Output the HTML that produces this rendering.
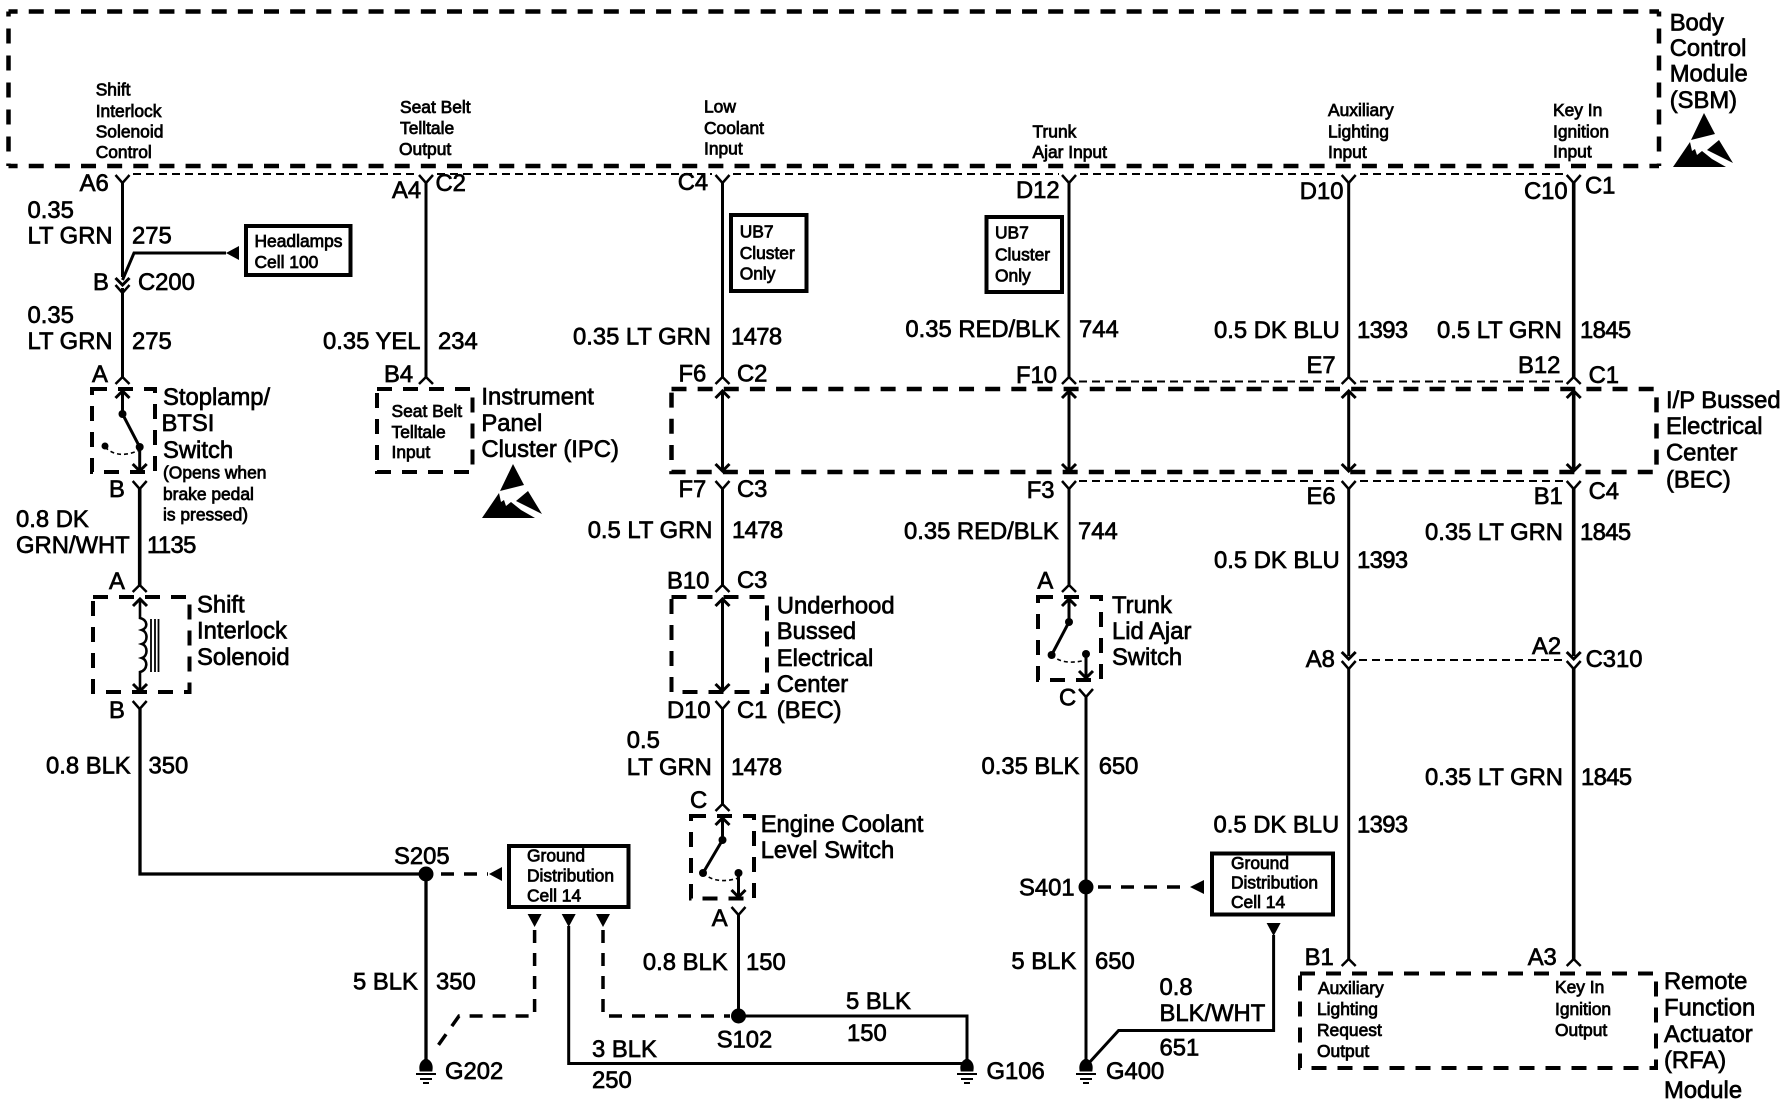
<!DOCTYPE html>
<html><head><meta charset="utf-8"><style>
html,body{margin:0;padding:0;background:#fff}
svg{display:block}
text{font-family:"Liberation Sans",sans-serif;fill:#000;stroke:#000;stroke-width:.7px}
.b{font-size:23.8px}
.n{letter-spacing:-.6px}
.s{font-size:17.4px;stroke-width:.75px}
.w{fill:none;stroke:#000;stroke-width:3}
.d{fill:none;stroke:#000;stroke-width:4.5;stroke-dasharray:15 11.14}
.t{fill:none;stroke:#000;stroke-width:2;stroke-dasharray:8 5}
.m{fill:none;stroke:#000;stroke-width:4;stroke-dasharray:15 11}
.r{fill:#fff;stroke:#000;stroke-width:4}
</style></head><body>
<svg width="1786" height="1120" viewBox="0 0 1786 1120" xmlns="http://www.w3.org/2000/svg">
<defs>
<path id="Y" d="M-7,0L0,8L7,0" fill="none" stroke="#000" stroke-width="2.5"/>
<path id="L" d="M-7,0L0,-7L7,0" fill="none" stroke="#000" stroke-width="2.5"/>
<path id="U" d="M-7,7L0,0L7,7" fill="none" stroke="#000" stroke-width="3"/>
<path id="D" d="M-7,-7L0,0L7,-7" fill="none" stroke="#000" stroke-width="3"/>
<g id="G"><path d="M-5,10C-6,4 -3,1 0,0C3,1 6,4 5,10Z" fill="#000" stroke="#000" stroke-width="3"/><path d="M-10,14H10M-6,19H6M-3,23H3" stroke="#000" stroke-width="2" fill="none"/></g>
<polygon id="Tri" points="-7,0 7,0 0,13" fill="#000"/>
<g id="E"><polygon points="0,0 11,21 -13,27" fill="#000"/><polygon points="-31,54 -14,29 -12,38 -9,36 -7,42 -2,38 8,46 22,54" fill="#000"/><polygon points="15,27 29,50 3,37" fill="#000"/></g>
</defs>

<!-- module boxes -->
<path class="d" style="stroke-dashoffset:5.9" d="M8.5,11.5H1659"/>
<path class="d" style="stroke-dashoffset:5.9" d="M8.5,166H1659"/>
<path class="d" style="stroke-dasharray:15 12;stroke-dashoffset:10" d="M8.5,11.5V166"/>
<path class="d" style="stroke-dasharray:15 12;stroke-dashoffset:10" d="M1659,11.5V166"/>
<rect x="671.5" y="389" width="985" height="83" class="d"/>
<rect x="92" y="389" width="63" height="83" class="m"/>
<rect x="377" y="389" width="95.5" height="83" class="m"/>
<rect x="93" y="597" width="96.5" height="95" class="m"/>
<rect x="671.5" y="597" width="95.5" height="95" class="m"/>
<rect x="691" y="816" width="63" height="82.5" class="m"/>
<rect x="1038" y="597" width="63" height="83" class="m"/>
<rect x="1300" y="973.5" width="356" height="94.5" class="m"/>

<!-- thin dashed -->
<path class="t" d="M133,174H416M437,174H712M733,174H1059M1080,174H1339M1360,174H1564"/>
<path class="t" d="M1079,381.5H1339M1360,381.5H1564"/>
<path class="t" d="M1079,481H1339M1360,481H1564"/>
<path class="t" d="M1359,660H1564"/>

<!-- wires -->
<path class="w" d="M122.5,182V277M122.5,288V378"/>
<path class="w" d="M426,182V378"/>
<path class="w" d="M722.5,182V378M722.5,392V470M722.5,488V587M722.5,600V690M722.5,709V806"/>
<path class="w" d="M1069,182V378M1069,392V470M1069,488V587"/>
<path class="w" d="M1348.7,182V378M1348.7,392V470M1348.7,488V656M1348.7,668V960"/>
<path class="w" d="M1573.7,182V378M1573.7,392V470M1573.7,488V656M1573.7,668V960" style="stroke-width:3.6"/>
<path class="w" d="M139.7,488V587" style="stroke-width:3.6"/>
<path class="w" d="M140,709V874H426V1062" style="stroke-width:3.3"/>
<path class="w" d="M738.5,914V1016H967V1062" />
<path class="w" d="M568.7,926V1063.5H967" />
<path class="w" d="M1086,696V1062"/>
<path class="w" d="M1273.6,935V1030.5H1118.6L1088,1064"/>
<path class="w" d="M226,253H134L122.5,280"/>
<polygon points="226,253 239,246 239,260" fill="#000"/>

<!-- ref dashed -->
<path fill="none" stroke="#000" stroke-width="3.5" stroke-dasharray="13 10" d="M441,874H488"/>
<polygon points="489,874 502,867 502,881" fill="#000"/>
<path fill="none" stroke="#000" stroke-width="3.5" stroke-dasharray="13 10" d="M1098,887H1186"/>
<polygon points="1190,887 1204,880 1204,894" fill="#000"/>
<path fill="none" stroke="#000" stroke-width="3.5" stroke-dasharray="13 10" d="M534.6,930V1016H459L437,1047"/>
<path fill="none" stroke="#000" stroke-width="3.5" stroke-dasharray="13 10" d="M603,930V1016H730"/>

<!-- triangles under boxes -->
<use href="#Tri" x="534.6" y="914"/><use href="#Tri" x="568.7" y="914"/><use href="#Tri" x="603" y="914"/><use href="#Tri" x="1273.6" y="923"/>

<!-- solid boxes -->
<rect x="246" y="226" width="104.5" height="49" class="r"/>
<rect x="731" y="215" width="75.5" height="76" class="r"/>
<rect x="986.5" y="217" width="75.5" height="75" class="r"/>
<rect x="509" y="846" width="119.5" height="61" class="r"/>
<rect x="1212" y="853.5" width="121" height="61" class="r"/>

<!-- splices -->
<circle cx="426" cy="874" r="7.5" fill="#000"/>
<circle cx="738.5" cy="1016" r="7.5" fill="#000"/>
<circle cx="1086" cy="887" r="7.5" fill="#000"/>

<!-- connectors -->
<use href="#Y" x="122.5" y="175"/><use href="#Y" x="426" y="175"/><use href="#Y" x="722.5" y="175"/><use href="#Y" x="1069" y="175"/><use href="#Y" x="1348.7" y="175"/><use href="#Y" x="1573.7" y="175"/>
<use href="#L" x="122.5" y="384"/><use href="#L" x="426" y="384"/><use href="#L" x="722.5" y="384"/><use href="#L" x="1069" y="384"/><use href="#L" x="1348.7" y="384"/><use href="#L" x="1573.7" y="384"/>
<use href="#Y" x="139.7" y="481"/><use href="#Y" x="722.5" y="481"/><use href="#Y" x="1069" y="481"/><use href="#Y" x="1348.7" y="481"/><use href="#Y" x="1573.7" y="481"/>
<use href="#L" x="139.7" y="592"/><use href="#L" x="722.5" y="592"/><use href="#L" x="1069" y="592"/>
<use href="#Y" x="139.7" y="701"/><use href="#Y" x="722.5" y="701"/><use href="#Y" x="1086" y="689"/>
<use href="#L" x="722.5" y="811"/><use href="#Y" x="738.5" y="907"/>
<use href="#L" x="1348.7" y="966"/><use href="#L" x="1573.7" y="966"/>
<!-- chevron pairs -->
<use href="#D" x="122.5" y="285"/><use href="#Y" x="122.5" y="285"/>
<use href="#D" x="1348.7" y="659"/><use href="#Y" x="1348.7" y="661"/>
<use href="#D" x="1573.7" y="659"/><use href="#Y" x="1573.7" y="661"/>
<!-- arrows in boxes -->
<use href="#U" x="722.5" y="391"/><use href="#D" x="722.5" y="471"/>
<use href="#U" x="1069" y="391"/><use href="#D" x="1069" y="471"/>
<use href="#U" x="1348.7" y="391"/><use href="#D" x="1348.7" y="471"/>
<use href="#U" x="1573.7" y="391"/><use href="#D" x="1573.7" y="471"/>
<use href="#U" x="722.5" y="599"/><use href="#D" x="722.5" y="691"/>

<!-- switches and solenoid -->
<g fill="none" stroke="#000" stroke-width="3">
<path d="M122.5,392V414L139.7,447V470"/><use href="#U" x="122.5" y="391"/><use href="#D" x="139.7" y="471"/>
<path d="M105,447Q118,460 139.7,450" stroke-width="1.6" stroke-dasharray="4 3"/>
<path d="M722.5,819V840L703,873"/><path d="M738.5,873V896"/><use href="#U" x="722.5" y="818"/><use href="#D" x="738.5" y="897"/>
<path d="M703,873Q716,885 738.5,878" stroke-width="1.6" stroke-dasharray="4 3"/>
<path d="M1069,600V622L1051.6,655"/><path d="M1086,654V677"/><use href="#U" x="1069" y="599"/><use href="#D" x="1086" y="678"/>
<path d="M1051.6,655Q1063,666 1086,660" stroke-width="1.6" stroke-dasharray="4 3"/>
<path d="M140,600V618C148,620 148,628 142,630C148,632 148,642 142,644C148,646 148,656 142,658C148,660 148,670 140,672V690" stroke-width="2.6"/>
<use href="#U" x="140" y="599"/><use href="#D" x="140" y="691"/>
<path d="M151,619V672M155,619V672M158.5,619V672" stroke-width="1.8"/>
</g>
<g fill="#000">
<circle cx="122.5" cy="414" r="4"/><circle cx="139.7" cy="447" r="4"/><circle cx="105" cy="446" r="3.5"/>
<circle cx="722.5" cy="840" r="4"/><circle cx="703" cy="873" r="4"/><circle cx="738.5" cy="873" r="4"/>
<circle cx="1069" cy="622" r="4"/><circle cx="1051.6" cy="655" r="4"/><circle cx="1086" cy="654" r="4"/>
</g>

<!-- grounds -->
<use href="#G" x="426" y="1060"/><use href="#G" x="967" y="1060"/><use href="#G" x="1086" y="1060"/>
<!-- ESD -->
<use href="#E" x="513" y="464"/><use href="#E" x="1704" y="113"/>

<!-- small text -->
<g>
<text class="s" x="95.7" y="95.7">Shift</text><text class="s" x="95.7" y="117">Interlock</text><text class="s" x="95.7" y="137.5">Solenoid</text><text class="s" x="95.7" y="158">Control</text>
<text class="s" x="400" y="113">Seat Belt</text><text class="s" x="400" y="134">Telltale</text><text class="s" x="399" y="155">Output</text>
<text class="s" x="704" y="112.5">Low</text><text class="s" x="704" y="134">Coolant</text><text class="s" x="704" y="154.6">Input</text>
<text class="s" x="1032.5" y="137.5">Trunk</text><text class="s" x="1032.5" y="158">Ajar Input</text>
<text class="s" x="1328" y="116">Auxiliary</text><text class="s" x="1328" y="137.5">Lighting</text><text class="s" x="1328" y="158">Input</text>
<text class="s" x="1553" y="116">Key In</text><text class="s" x="1553" y="137.5">Ignition</text><text class="s" x="1553" y="157.5">Input</text>
<text class="s" x="254.5" y="247">Headlamps</text><text class="s" x="254.5" y="268">Cell 100</text>
<text class="s" x="739.7" y="237.5">UB7</text><text class="s" x="739.7" y="259">Cluster</text><text class="s" x="739.7" y="279.6">Only</text>
<text class="s" x="995" y="238.6">UB7</text><text class="s" x="995" y="260.7">Cluster</text><text class="s" x="995" y="281.4">Only</text>
<text class="s" x="163" y="478.6">(Opens when</text><text class="s" x="163" y="500">brake pedal</text><text class="s" x="163" y="520.7">is pressed)</text>
<text class="s" x="391.5" y="417">Seat Belt</text><text class="s" x="391.5" y="438">Telltale</text><text class="s" x="391.5" y="458">Input</text>
<text class="s" x="527" y="861.5">Ground</text><text class="s" x="527" y="881.5">Distribution</text><text class="s" x="527" y="901.5">Cell 14</text>
<text class="s" x="1231" y="869">Ground</text><text class="s" x="1231" y="888.6">Distribution</text><text class="s" x="1231" y="908">Cell 14</text>
<text class="s" x="1318" y="994">Auxiliary</text><text class="s" x="1317" y="1015">Lighting</text><text class="s" x="1317" y="1036">Request</text><text class="s" x="1317" y="1057">Output</text>
<text class="s" x="1555" y="993">Key In</text><text class="s" x="1555" y="1015">Ignition</text><text class="s" x="1555" y="1036">Output</text>
</g>

<!-- big text -->
<g>
<text class="b" x="79.6" y="191">A6</text><text class="b" x="392" y="198">A4</text><text class="b" x="435.5" y="191">C2</text>
<text class="b" x="27.5" y="218">0.35</text><text class="b" x="27.5" y="243.6">LT GRN</text><text class="b" x="132" y="243.6">275</text>
<text class="b" x="93" y="290">B</text><text class="b" x="138" y="290">C200</text>
<text class="b" x="27.5" y="323">0.35</text><text class="b" x="27.5" y="349">LT GRN</text><text class="b" x="132" y="349">275</text>
<text class="b" x="323" y="349">0.35 YEL</text><text class="b" x="438" y="349">234</text>
<text class="b" x="92" y="382">A</text><text class="b" x="384" y="382">B4</text>
<text class="b" x="163" y="405">Stoplamp/</text><text class="b" x="161.5" y="431">BTSI</text><text class="b" x="163" y="458">Switch</text>
<text class="b" x="481.4" y="404.6">Instrument</text><text class="b" x="481.4" y="431">Panel</text><text class="b" x="481.4" y="457">Cluster (IPC)</text>
<text class="b" x="109" y="497">B</text><text class="b" x="16" y="527">0.8 DK</text><text class="b" x="16" y="553">GRN/WHT</text><text class="b n" x="147" y="553">1135</text>

<text class="b" x="677.7" y="190">C4</text><text class="b" x="1016" y="198">D12</text>
<text class="b" x="573" y="344.6">0.35 LT GRN</text><text class="b n" x="731" y="344.6">1478</text>
<text class="b" x="905.4" y="336.8">0.35 RED/BLK</text><text class="b" x="1079" y="336.8">744</text>
<text class="b" x="678.5" y="381.4">F6</text><text class="b" x="737" y="381.4">C2</text><text class="b" x="1016" y="383">F10</text>
<text class="b" x="678.5" y="497">F7</text><text class="b" x="737" y="497">C3</text><text class="b" x="1026.7" y="498">F3</text>
<text class="b" x="587.7" y="538">0.5 LT GRN</text><text class="b n" x="732" y="538">1478</text>
<text class="b" x="904" y="539">0.35 RED/BLK</text><text class="b" x="1078" y="539">744</text>

<text class="b" x="1669.7" y="30.4">Body</text><text class="b" x="1669.7" y="56">Control</text><text class="b" x="1669.7" y="81.4">Module</text><text class="b" x="1669.7" y="108">(SBM)</text>
<text class="b" x="1299.8" y="199">D10</text><text class="b" x="1524" y="199">C10</text><text class="b" x="1585" y="193.6">C1</text>
<text class="b" x="1214" y="338">0.5 DK BLU</text><text class="b n" x="1357" y="338">1393</text><text class="b" x="1437" y="338">0.5 LT GRN</text><text class="b n" x="1580" y="338">1845</text>
<text class="b" x="1306.5" y="373">E7</text><text class="b" x="1518" y="373">B12</text><text class="b" x="1588.6" y="383">C1</text>
<text class="b" x="1666" y="408">I/P Bussed</text><text class="b" x="1666" y="434">Electrical</text><text class="b" x="1666" y="460.7">Center</text><text class="b" x="1666" y="487.5">(BEC)</text>
<text class="b" x="1306.5" y="504">E6</text><text class="b" x="1533.7" y="504">B1</text><text class="b" x="1588.6" y="499">C4</text>
<text class="b" x="1425" y="540">0.35 LT GRN</text><text class="b n" x="1580" y="540">1845</text>
<text class="b" x="1214" y="568">0.5 DK BLU</text><text class="b n" x="1357" y="568">1393</text>

<text class="b" x="109" y="589">A</text><text class="b" x="197" y="612.5">Shift</text><text class="b" x="197" y="638.6">Interlock</text><text class="b" x="197" y="665">Solenoid</text>
<text class="b" x="109" y="718">B</text><text class="b" x="46" y="773.6">0.8 BLK</text><text class="b" x="148.5" y="773.6">350</text>
<text class="b" x="394" y="864">S205</text><text class="b" x="353" y="989.6">5 BLK</text><text class="b" x="436" y="989.6">350</text><text class="b" x="445" y="1079">G202</text>

<text class="b" x="667" y="588.6">B10</text><text class="b" x="737" y="588">C3</text>
<text class="b" x="776.8" y="613.6">Underhood</text><text class="b" x="776.8" y="639">Bussed</text><text class="b" x="776.8" y="666">Electrical</text><text class="b" x="776.8" y="692">Center</text><text class="b" x="776.8" y="718">(BEC)</text>
<text class="b" x="667" y="718">D10</text><text class="b" x="737" y="718">C1</text>
<text class="b" x="626.8" y="748">0.5</text><text class="b" x="626.8" y="775">LT GRN</text><text class="b n" x="731" y="775">1478</text>
<text class="b" x="690" y="808">C</text><text class="b" x="760.7" y="832">Engine Coolant</text><text class="b" x="760.7" y="858">Level Switch</text>
<text class="b" x="711.7" y="926">A</text><text class="b" x="642.9" y="970">0.8 BLK</text><text class="b" x="746" y="970">150</text>
<text class="b" x="846" y="1009">5 BLK</text><text class="b" x="847" y="1041">150</text><text class="b" x="716.7" y="1047.5">S102</text>
<text class="b" x="592" y="1057">3 BLK</text><text class="b" x="592" y="1088">250</text>
<text class="b" x="986.5" y="1079">G106</text><text class="b" x="1106" y="1079">G400</text>

<text class="b" x="1037.4" y="588.6">A</text><text class="b" x="1112" y="613">Trunk</text><text class="b" x="1112" y="639">Lid Ajar</text><text class="b" x="1112" y="665">Switch</text>
<text class="b" x="1059" y="705.7">C</text><text class="b" x="981.5" y="774">0.35 BLK</text><text class="b" x="1098.7" y="774">650</text>
<text class="b" x="1019" y="895.7">S401</text><text class="b" x="1011.4" y="969">5 BLK</text><text class="b" x="1095" y="969">650</text>
<text class="b" x="1159.5" y="995">0.8</text><text class="b" x="1159.5" y="1021">BLK/WHT</text><text class="b" x="1159.5" y="1055.7">651</text>

<text class="b" x="1305.8" y="667">A8</text><text class="b" x="1532" y="654">A2</text><text class="b" x="1585.6" y="667">C310</text>
<text class="b" x="1425" y="785">0.35 LT GRN</text><text class="b n" x="1581" y="785">1845</text>
<text class="b" x="1213.5" y="832.5">0.5 DK BLU</text><text class="b n" x="1357" y="832.5">1393</text>
<text class="b" x="1304.6" y="965">B1</text><text class="b" x="1527.7" y="965">A3</text>
<text class="b" x="1664" y="989">Remote</text><text class="b" x="1664" y="1015.7">Function</text><text class="b" x="1664" y="1042">Actuator</text><text class="b" x="1664" y="1068">(RFA)</text><text class="b" x="1664" y="1098">Module</text>
</g>
</svg>
</body></html>
